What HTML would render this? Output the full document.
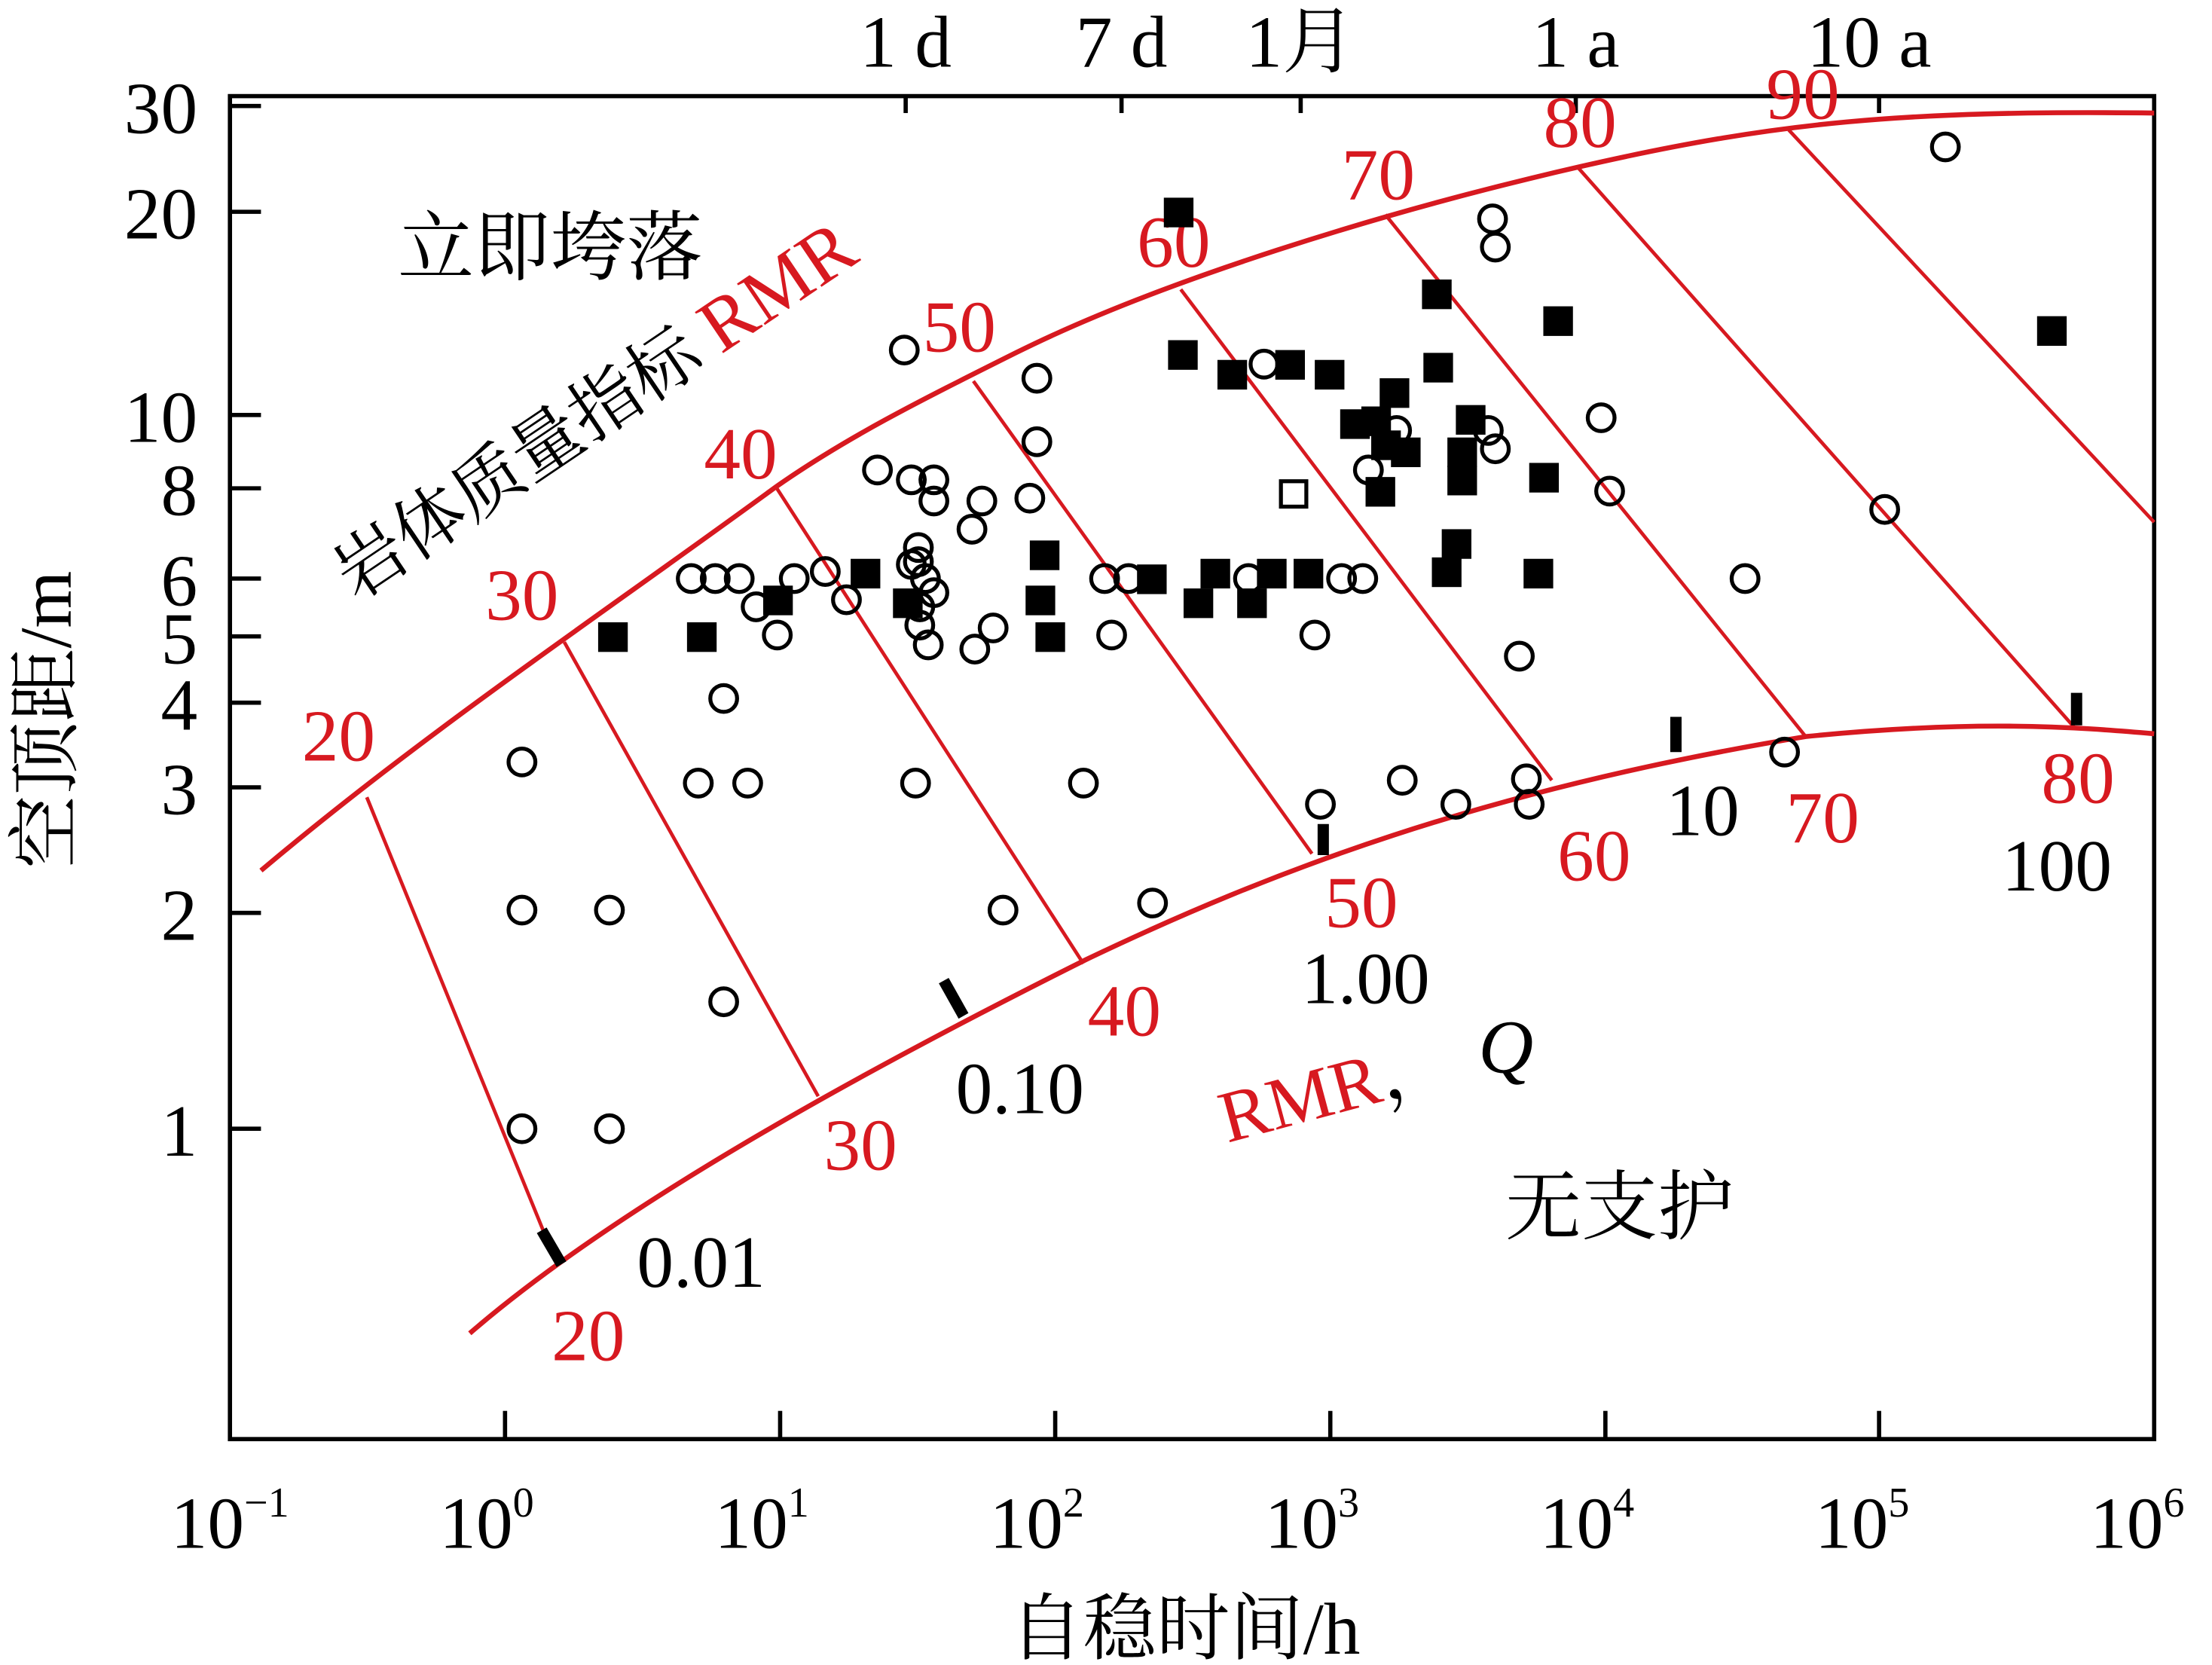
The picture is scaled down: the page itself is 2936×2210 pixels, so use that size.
<!DOCTYPE html>
<html><head><meta charset="utf-8"><style>html,body{margin:0;padding:0;background:#fff}svg{display:block}</style></head>
<body>
<svg width="2936" height="2210" viewBox="0 0 1568 1180" xmlns="http://www.w3.org/2000/svg" font-family="Liberation Serif, Noto Serif CJK SC, serif">
<rect x="0" y="0" width="1568" height="1180" fill="#fff"/>
<rect x="163" y="68" width="1364" height="952" fill="none" stroke="#000" stroke-width="3"/>
<g stroke="#000" stroke-width="3">
<line x1="163" y1="75" x2="185" y2="75"/><line x1="163" y1="150" x2="185" y2="150"/><line x1="163" y1="294" x2="185" y2="294"/>
<line x1="163" y1="346" x2="185" y2="346"/><line x1="163" y1="410" x2="185" y2="410"/><line x1="163" y1="451" x2="185" y2="451"/>
<line x1="163" y1="498" x2="185" y2="498"/><line x1="163" y1="558" x2="185" y2="558"/><line x1="163" y1="647" x2="185" y2="647"/>
<line x1="163" y1="800" x2="185" y2="800"/>
<line x1="358" y1="1020" x2="358" y2="1000"/><line x1="553" y1="1020" x2="553" y2="1000"/><line x1="748" y1="1020" x2="748" y2="1000"/>
<line x1="943" y1="1020" x2="943" y2="1000"/><line x1="1138" y1="1020" x2="1138" y2="1000"/><line x1="1332" y1="1020" x2="1332" y2="1000"/>
<line x1="642" y1="68" x2="642" y2="80"/><line x1="795" y1="68" x2="795" y2="80"/><line x1="922" y1="68" x2="922" y2="80"/>
<line x1="1117" y1="68" x2="1117" y2="80"/><line x1="1332" y1="68" x2="1332" y2="80"/>
</g>
<g font-size="52" text-anchor="end" fill="#000">
<text x="140" y="94">30</text><text x="140" y="169">20</text><text x="140" y="313">10</text><text x="140" y="365">8</text>
<text x="140" y="429">6</text><text x="140" y="470">5</text><text x="140" y="517">4</text><text x="140" y="577">3</text>
<text x="140" y="666">2</text><text x="140" y="819">1</text>
</g>
<g font-size="52" text-anchor="middle" fill="#000">
<text x="163" y="1097">10<tspan font-size="30" dy="-22">−1</tspan></text>
<text x="345" y="1097">10<tspan font-size="30" dy="-22">0</tspan></text>
<text x="540" y="1097">10<tspan font-size="30" dy="-22">1</tspan></text>
<text x="735" y="1097">10<tspan font-size="30" dy="-22">2</tspan></text>
<text x="930" y="1097">10<tspan font-size="30" dy="-22">3</tspan></text>
<text x="1125" y="1097">10<tspan font-size="30" dy="-22">4</tspan></text>
<text x="1320" y="1097">10<tspan font-size="30" dy="-22">5</tspan></text>
<text x="1515" y="1097">10<tspan font-size="30" dy="-22">6</tspan></text>
<text x="642" y="47">1 d</text><text x="795" y="47">7 d</text><text x="922" y="47">1月</text>
<text x="1117" y="47">1 a</text><text x="1325" y="47">10 a</text>
<text x="840" y="1172">自稳时间/h</text>
<text x="390" y="194" font-size="54">立即垮落</text>
<text x="1148" y="874" font-size="54">无支护</text>
</g>
<text transform="translate(50,510) rotate(-90)" font-size="52" text-anchor="middle">空顶距/m</text>
<text transform="translate(252,426) rotate(-34)" font-size="50">岩体质量指标 <tspan fill="#d71920" font-size="54">RMR</tspan></text>
<text transform="translate(870,810) rotate(-15)" font-size="52"><tspan fill="#d71920">RMR</tspan>，</text>
<text x="1048" y="760" font-size="54" font-family="Liberation Serif, serif" font-style="italic">Q</text>
<g fill="none" stroke="#d71920" stroke-width="3.5">
<path d="M185,617 C300,520 420,440 550,345 C600,310 650,285 720,250 C820,200 980,150 1120,118 S1350,78 1527,80"/>
<path d="M333,945 C420,870 560,785 770,680 C900,618 1050,560 1280,522 C1400,510 1470,515 1527,520"/>
</g>
<g stroke="#d71920" stroke-width="2.5">
<line x1="260" y1="565" x2="385" y2="872"/><line x1="400" y1="455" x2="580" y2="777"/>
<line x1="550" y1="345" x2="768" y2="683"/><line x1="690" y1="270" x2="930" y2="605"/>
<line x1="837" y1="205" x2="1100" y2="553"/><line x1="982" y1="152" x2="1280" y2="522"/>
<line x1="1118" y1="118" x2="1470" y2="515"/><line x1="1268" y1="92" x2="1527" y2="370"/>
</g>
<g fill="#d71920" font-size="52" text-anchor="middle">
<text x="240" y="539">20</text><text x="370" y="439">30</text><text x="525" y="339">40</text><text x="680" y="249">50</text>
<text x="832" y="189">60</text><text x="977" y="141">70</text><text x="1120" y="104">80</text><text x="1278" y="84">90</text>
<text x="417" y="964">20</text><text x="610" y="829">30</text><text x="797" y="734">40</text><text x="965" y="657">50</text>
<text x="1130" y="624">60</text><text x="1292" y="597">70</text><text x="1473" y="569">80</text>
</g>
<g fill="#000" font-size="52" text-anchor="middle">
<text x="497" y="912">0.01</text><text x="723" y="789">0.10</text><text x="968" y="711">1.00</text>
<text x="1207" y="592">10</text><text x="1458" y="631">100</text>
</g>
<g stroke="#000" stroke-width="8">
<line x1="384" y1="872" x2="398" y2="896"/><line x1="669" y1="695" x2="683" y2="720"/>
<line x1="938" y1="584" x2="938" y2="606"/><line x1="1188" y1="508" x2="1188" y2="533"/><line x1="1472" y1="491" x2="1472" y2="514"/>
</g>
<g fill="none" stroke="#000" stroke-width="2.8">
<circle cx="370" cy="540" r="9.5"/><circle cx="370" cy="645" r="9.5"/><circle cx="370" cy="800" r="9.5"/><circle cx="432" cy="645" r="9.5"/><circle cx="432" cy="800" r="9.5"/>
<circle cx="490" cy="410" r="9.5"/><circle cx="507" cy="410" r="9.5"/><circle cx="524" cy="410" r="9.5"/><circle cx="513" cy="495" r="9.5"/><circle cx="495" cy="555" r="9.5"/>
<circle cx="530" cy="555" r="9.5"/><circle cx="513" cy="710" r="9.5"/><circle cx="536" cy="430" r="9.5"/><circle cx="551" cy="450" r="9.5"/><circle cx="563" cy="410" r="9.5"/>
<circle cx="585" cy="405" r="9.5"/><circle cx="600" cy="425" r="9.5"/><circle cx="622" cy="333" r="9.5"/><circle cx="646" cy="340" r="9.5"/><circle cx="662" cy="340" r="9.5"/>
<circle cx="662" cy="355" r="9.5"/><circle cx="651" cy="388" r="9.5"/><circle cx="651" cy="398" r="9.5"/><circle cx="656" cy="410" r="9.5"/><circle cx="662" cy="420" r="9.5"/>
<circle cx="652" cy="430" r="9.5"/><circle cx="652" cy="443" r="9.5"/><circle cx="658" cy="457" r="9.5"/><circle cx="646" cy="400" r="9.5"/><circle cx="641" cy="248" r="9.5"/>
<circle cx="649" cy="555" r="9.5"/><circle cx="689" cy="375" r="9.5"/><circle cx="696" cy="355" r="9.5"/><circle cx="691" cy="460" r="9.5"/><circle cx="704" cy="445" r="9.5"/>
<circle cx="711" cy="645" r="9.5"/><circle cx="730" cy="353" r="9.5"/><circle cx="735" cy="313" r="9.5"/><circle cx="735" cy="268" r="9.5"/><circle cx="768" cy="555" r="9.5"/>
<circle cx="783" cy="410" r="9.5"/><circle cx="788" cy="450" r="9.5"/><circle cx="800" cy="410" r="9.5"/><circle cx="817" cy="640" r="9.5"/><circle cx="885" cy="410" r="9.5"/>
<circle cx="896" cy="258" r="9.5"/><circle cx="932" cy="450" r="9.5"/><circle cx="936" cy="570" r="9.5"/><circle cx="951" cy="410" r="9.5"/><circle cx="966" cy="410" r="9.5"/>
<circle cx="970" cy="333" r="9.5"/><circle cx="990" cy="305" r="9.5"/><circle cx="994" cy="553" r="9.5"/><circle cx="1032" cy="570" r="9.5"/><circle cx="1058" cy="155" r="9.5"/>
<circle cx="1060" cy="175" r="9.5"/><circle cx="1055" cy="305" r="9.5"/><circle cx="1060" cy="318" r="9.5"/><circle cx="1077" cy="465" r="9.5"/><circle cx="1082" cy="552" r="9.5"/>
<circle cx="1084" cy="570" r="9.5"/><circle cx="1135" cy="296" r="9.5"/><circle cx="1141" cy="348" r="9.5"/><circle cx="1237" cy="410" r="9.5"/><circle cx="1265" cy="533" r="9.5"/>
<circle cx="1336" cy="361" r="9.5"/><circle cx="1379" cy="104" r="9.5"/>
<rect x="908" y="341" width="18" height="18"/>
</g>
<g fill="#000">
<rect x="424" y="441" width="21" height="21"/><rect x="487" y="441" width="21" height="21"/><rect x="541" y="415" width="21" height="21"/><rect x="603" y="396" width="21" height="21"/>
<rect x="633" y="417" width="21" height="21"/><rect x="730" y="383" width="21" height="21"/><rect x="727" y="415" width="21" height="21"/><rect x="734" y="441" width="21" height="21"/>
<rect x="806" y="400" width="21" height="21"/><rect x="825" y="140" width="21" height="21"/><rect x="828" y="241" width="21" height="21"/><rect x="839" y="417" width="21" height="21"/>
<rect x="851" y="396" width="21" height="21"/><rect x="863" y="255" width="21" height="21"/><rect x="877" y="417" width="21" height="21"/><rect x="891" y="396" width="21" height="21"/>
<rect x="904" y="248" width="21" height="21"/><rect x="917" y="396" width="21" height="21"/><rect x="932" y="255" width="21" height="21"/><rect x="950" y="290" width="21" height="21"/>
<rect x="965" y="288" width="21" height="21"/><rect x="978" y="268" width="21" height="21"/><rect x="968" y="338" width="21" height="21"/><rect x="972" y="305" width="21" height="21"/>
<rect x="986" y="310" width="21" height="21"/><rect x="1008" y="198" width="21" height="21"/><rect x="1009" y="250" width="21" height="21"/><rect x="1015" y="395" width="21" height="21"/>
<rect x="1022" y="375" width="21" height="21"/><rect x="1026" y="310" width="21" height="21"/><rect x="1026" y="330" width="21" height="21"/><rect x="1032" y="287" width="21" height="21"/>
<rect x="1080" y="396" width="21" height="21"/><rect x="1084" y="328" width="21" height="21"/><rect x="1094" y="217" width="21" height="21"/><rect x="1444" y="224" width="21" height="21"/>
</g>
</svg>
</body></html>
